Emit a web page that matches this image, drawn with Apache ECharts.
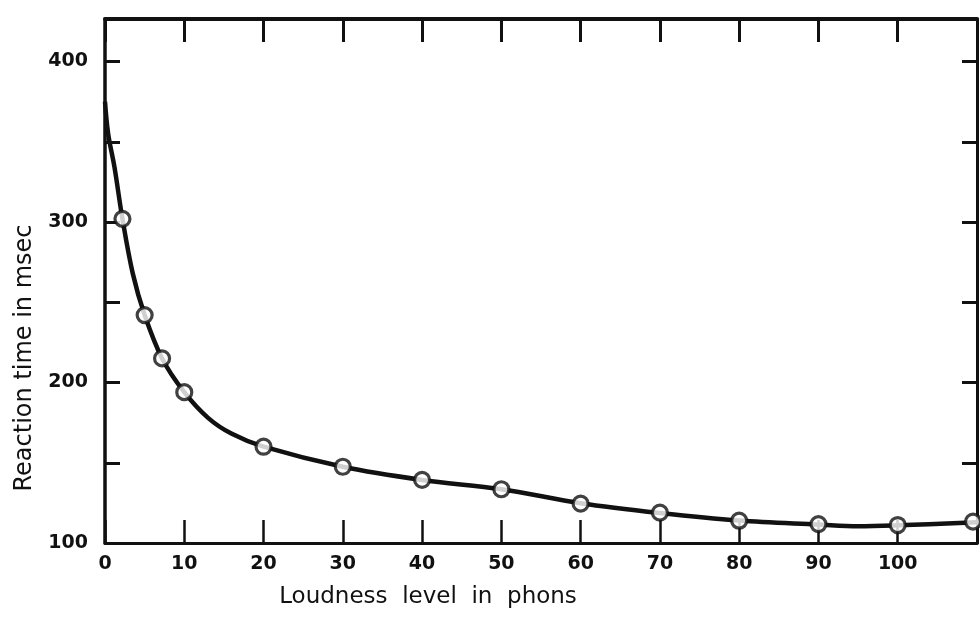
<!DOCTYPE html>
<html>
<head>
<meta charset="utf-8">
<script src="https://cdn.jsdelivr.net/npm/echarts@6/dist/echarts.min.js"></script>
<style>
  html, body { margin: 0; padding: 0; background: #fff; }
  #chart { width: 980px; height: 620px; }
</style>
</head>
<body>
<div id="chart"></div>
<script>
// Measured points (open circles)
const pointLoudness = [2.2, 5, 7.2, 10, 20, 30, 40, 50, 60, 70, 80, 90, 100, 109.5];
const pointReaction = [302, 242, 215, 194, 160, 147.5, 139.3, 133.5, 124.5, 118.9, 113.9, 111.8, 111.2, 113.3];

// Fitted smooth curve
const curveLoudness = [0, 0.4, 1.2, 2.2, 3.5, 5, 7.2, 10, 13, 16, 20, 30, 40, 50, 60, 70, 80, 90, 95, 100, 110];
const curveReaction = [375, 355, 334, 302, 268, 242, 215, 194, 178, 168, 160, 147.5, 139.3, 133.5, 124.8, 118.7, 114, 111.5, 110.4, 111, 113];

// Axis ticks
const xTickLabels = [0, 10, 20, 30, 40, 50, 60, 70, 80, 90, 100];
const yTickLabels = [100, 200, 300, 400];

const ink = '#111';
const font = 'DejaVu Sans';

const chart = echarts.init(document.getElementById('chart'), null, { renderer: 'canvas' });

const pts = pointLoudness.map((x, i) => [x, pointReaction[i]]);
const curve = curveLoudness.map((x, i) => [x, curveReaction[i]]);

chart.setOption({
  backgroundColor: '#ffffff',
  animation: false,
  grid: { left: 105, right: -3, top: 19, bottom: 77 },
  xAxis: [
    {
      type: 'value', position: 'bottom', min: 0, max: 110, interval: 10,
      name: 'Loudness  level  in  phons', nameLocation: 'middle', nameGap: 43,
      nameTextStyle: { fontFamily: font, fontSize: 23, color: ink, padding: [0, 226, 0, 0] },
      axisLine: { show: true, onZero: false, lineStyle: { color: ink, width: 3 } },
      axisTick: { show: true, inside: true, length: 23, lineStyle: { color: ink, width: 2.5 } },
      axisLabel: {
        fontFamily: font, fontSize: 19, fontWeight: 'bold', color: ink, margin: 12,
        formatter: v => (xTickLabels.indexOf(v) >= 0 ? String(v) : '')
      },
      splitLine: { show: false }
    },
    {
      type: 'value', position: 'top', min: 0, max: 110, interval: 10,
      axisLine: { show: true, onZero: false, lineStyle: { color: ink, width: 4 } },
      axisTick: { show: true, inside: true, length: 23, lineStyle: { color: ink, width: 3 } },
      axisLabel: { show: false },
      splitLine: { show: false }
    }
  ],
  yAxis: [
    {
      type: 'value', position: 'left', min: 100, max: 426.5, interval: 50,
      name: 'Reaction time in msec', nameLocation: 'middle', nameGap: 68,
      nameTextStyle: { fontFamily: font, fontSize: 24, color: ink, padding: [0, 154, 0, 0] },
      axisLine: { show: true, onZero: false, lineStyle: { color: ink, width: 3.5 } },
      axisTick: { show: true, inside: true, length: 15, lineStyle: { color: ink, width: 3 } },
      axisLabel: {
        fontFamily: font, fontSize: 19, fontWeight: 'bold', color: ink, margin: 17,
        formatter: v => (yTickLabels.indexOf(v) >= 0 ? String(v) : '')
      },
      splitLine: { show: false }
    },
    {
      type: 'value', position: 'right', min: 100, max: 426.5, interval: 50,
      axisLine: { show: true, onZero: false, lineStyle: { color: ink, width: 3 } },
      axisTick: { show: true, inside: true, length: 15, lineStyle: { color: ink, width: 3 } },
      axisLabel: { show: false },
      splitLine: { show: false }
    }
  ],
  series: [
    {
      type: 'line', data: curve, smooth: 0.35, showSymbol: false, symbol: 'none',
      xAxisIndex: 0, yAxisIndex: 0,
      lineStyle: { color: ink, width: 4.5 }, z: 3
    },
    {
      type: 'scatter', data: pts, symbol: 'circle', symbolSize: 15,
      xAxisIndex: 0, yAxisIndex: 0,
      itemStyle: { color: '#fff', borderColor: ink, borderWidth: 3.2 }, z: 4
    }
  ]
});
</script>
</body>
</html>
